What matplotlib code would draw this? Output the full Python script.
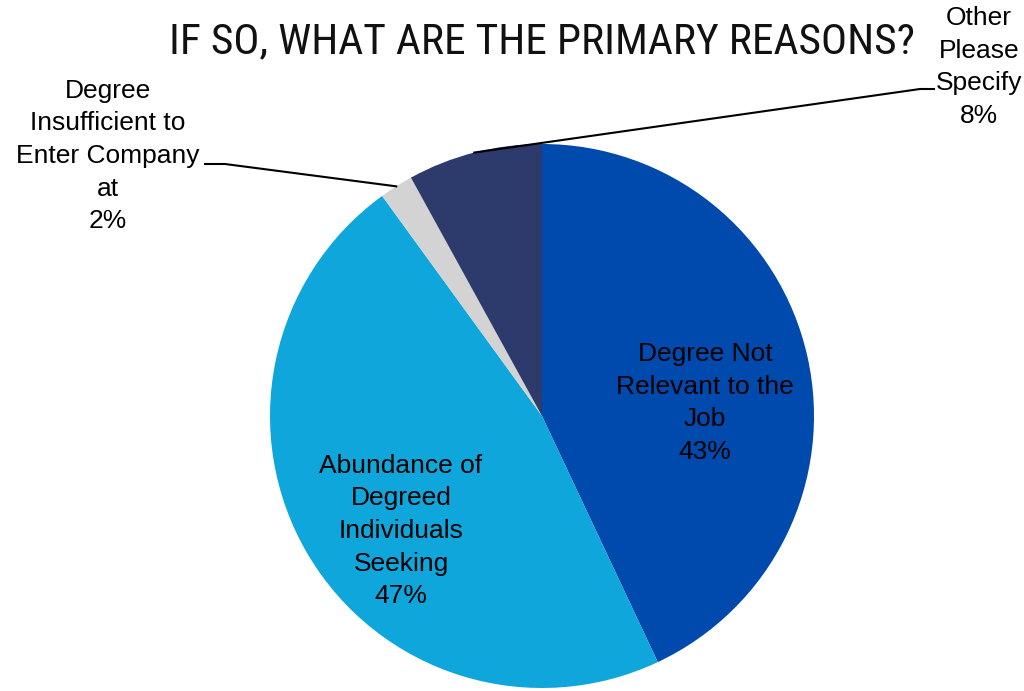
import numpy as np
import matplotlib
matplotlib.use("Agg")
import matplotlib.pyplot as plt
from matplotlib import font_manager

# data
labels = ["Degree Not\nRelevant to the\nJob",
          "Abundance of\nDegreed\nIndividuals\nSeeking",
          "Degree\nInsufficient to\nEnter Company\nat",
          "Other\nPlease\nSpecify"]
values = [43, 47, 2, 8]
colors = ["#004AAD", "#0FA6DC", "#D3D3D3", "#2C3A6C"]
title = "IF SO, WHAT ARE THE PRIMARY REASONS?"

names = {f.name for f in font_manager.fontManager.ttflist}
title_font = "Roboto"
for cand in ["Roboto Condensed", "Open Sans Condensed", "Liberation Sans Narrow",
             "Noto Sans Condensed", "DejaVu Sans Condensed"]:
    if cand in names:
        title_font = cand
        break

W, H = 1024, 691
fig = plt.figure(figsize=(W / 100, H / 100), dpi=100)
ax = fig.add_axes([0, 0, 1, 1])

cx, cy, r = 542, H - 416, 272
wedges, _ = ax.pie(values, colors=colors, startangle=90, counterclock=False,
                   center=(cx, cy), radius=r, frame=True)
ax.set_xlim(0, W)
ax.set_ylim(0, H)
ax.axis("off")

# label positions (image coords)
label_pos = [(705, 403), (401, 531), (108, 156), (979, 67)]
for i, (lab, v) in enumerate(zip(labels, values)):
    x, y = label_pos[i]
    ax.text(x, H - y, f"{lab}\n{v}%", ha="center", va="center",
            fontsize=19, family="Liberation Sans", linespacing=1.45,
            color="black", clip_on=False)

# leader lines for the small slices
def edge_point(i):
    w = wedges[i]
    a = np.deg2rad((w.theta1 + w.theta2) / 2)
    return cx + r * np.cos(a), cy + r * np.sin(a)

x0, y0 = edge_point(2)
ax.plot([205, 225, x0], [H - 164, H - 164, y0], color="black", lw=1.5)
x0, y0 = edge_point(3)
ax.plot([x0, 920, 934], [y0, H - 89, H - 89], color="black", lw=1.5)

t = fig.text(542 / W, 1 - 42 / H, title, ha="center", va="center",
             fontsize=30, family=title_font, color="#111111")
# fit title width to ~745 px
fig.canvas.draw()
wpx = t.get_window_extent().width
t.set_fontsize(30 * 745 / wpx)

fig.savefig("out.png", dpi=100)
